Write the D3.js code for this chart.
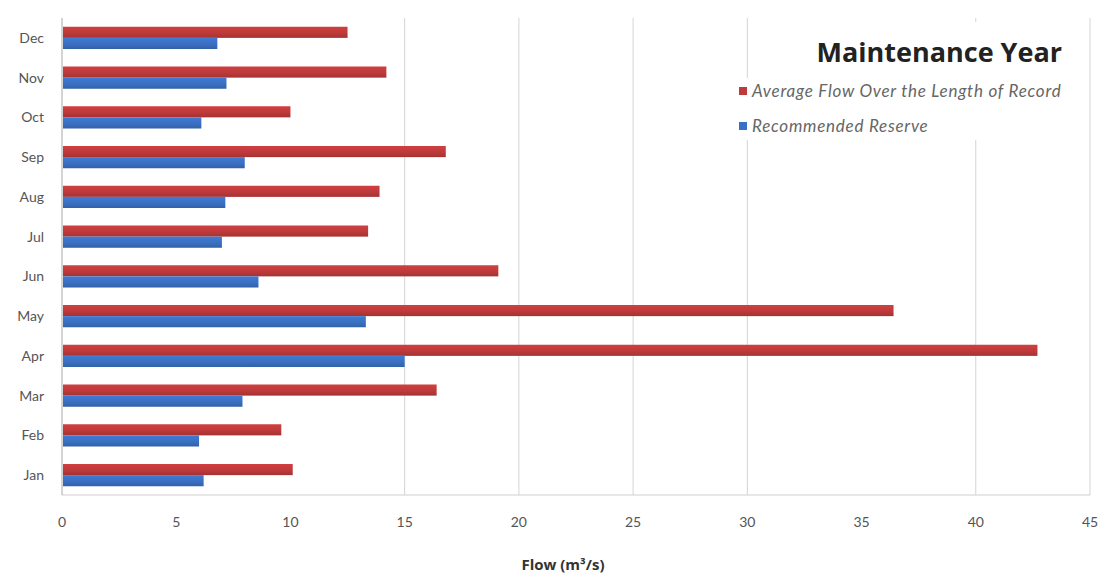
<!DOCTYPE html>
<html lang="en">
<head>
    <meta charset="UTF-8">
    <title>Maintenance Year</title>
    <script src="https://d3js.org/d3.v7.min.js"></script>
    <style>
        body { margin: 0; background: #fff; }
        .tick-label { font-family: Lato, 'Open Sans', sans-serif; font-size: 14px; fill: #555; }
        .title { font-family: 'Open Sans', Lato, sans-serif; font-size: 27px; font-weight: bold; fill: #222; }
        .legend-text { font-family: Lato, sans-serif; font-size: 17px; font-style: italic; letter-spacing: 0.75px; fill: #666; }
        .axis-title { font-family: 'Open Sans', Lato, sans-serif; font-size: 15px; font-weight: bold; fill: #333; }
    </style>
</head>
<body>
<div id="chart"></div>
<script>
    // data
    const months = ["Dec", "Nov", "Oct", "Sep", "Aug", "Jul", "Jun", "May", "Apr", "Mar", "Feb", "Jan"];
    const avgFlow = [12.5, 14.2, 10.0, 16.8, 13.9, 13.4, 19.1, 36.4, 42.7, 16.4, 9.6, 10.1];
    const reserve = [6.8, 7.2, 6.1, 8.0, 7.15, 7.0, 8.6, 13.3, 15.0, 7.9, 6.0, 6.2];
    const xTicks = [0, 5, 10, 15, 20, 25, 30, 35, 40, 45];
    const gridTicks = [15, 20, 25, 30, 40, 45];
    const seriesNames = ["Average Flow Over the Length of Record", "Recommended Reserve"];
    const colors = ["#be3a3b", "#3a70c2"];

    const W = 1103, H = 576;
    const plotLeft = 62, plotRight = 1090, plotTop = 18, plotBottom = 495;

    const svg = d3.select("#chart").append("svg")
        .attr("width", W)
        .attr("height", H);

    const x = d3.scaleLinear().domain([0, 45]).range([plotLeft, plotRight]);
    const y = d3.scaleBand().domain(months).range([plotTop, plotBottom])
        .paddingInner(0.44).paddingOuter(0.22);
    const sub = d3.scaleBand().domain([0, 1]).range([0, y.bandwidth()]);

    // grid lines
    svg.append("g").selectAll("line")
        .data(gridTicks)
        .join("line")
        .attr("x1", d => x(d)).attr("x2", d => x(d))
        .attr("y1", plotTop).attr("y2", plotBottom)
        .attr("stroke", "#d4d4d4")
        .attr("stroke-width", 1);

    // bottom border + left axis
    svg.append("line")
        .attr("x1", plotLeft).attr("x2", plotRight)
        .attr("y1", plotBottom).attr("y2", plotBottom)
        .attr("stroke", "#cfcfcf");
    svg.append("line")
        .attr("x1", plotLeft).attr("x2", plotLeft)
        .attr("y1", plotTop).attr("y2", plotBottom)
        .attr("stroke", "#a8a8a8");

    // white boxes behind title and legend
    svg.append("rect").attr("x", 800).attr("y", 22).attr("width", 268).attr("height", 58).attr("fill", "#fff");
    svg.append("rect").attr("x", 735).attr("y", 78).attr("width", 333).attr("height", 62).attr("fill", "#fff");

    const defs = svg.append("defs");
    colors.forEach((c, i) => {
        const g = defs.append("linearGradient")
            .attr("id", "grad" + i)
            .attr("x1", 0).attr("x2", 0).attr("y1", 0).attr("y2", 1);
        g.append("stop").attr("offset", "0%").attr("stop-color", d3.color(c).brighter(0.25));
        g.append("stop").attr("offset", "55%").attr("stop-color", c);
        g.append("stop").attr("offset", "100%").attr("stop-color", d3.color(c).darker(0.4));
    });

    const series = [avgFlow, reserve];
    series.forEach((vals, si) => {
        svg.append("g").selectAll("rect")
            .data(months)
            .join("rect")
            .attr("x", x(0) + 1)
            .attr("y", (m) => y(m) + sub(si))
            .attr("width", (m, i) => x(vals[i]) - x(0) - 1)
            .attr("height", sub.bandwidth())
            .attr("fill", `url(#grad${si})`);
    });

    // y labels
    svg.append("g").selectAll("text")
        .data(months)
        .join("text")
        .attr("class", "tick-label")
        .attr("x", 44)
        .attr("y", m => y(m) + y.bandwidth() / 2)
        .attr("dy", "0.35em")
        .attr("text-anchor", "end")
        .text(m => m);

    // x labels
    svg.append("g").selectAll("text")
        .data(xTicks)
        .join("text")
        .attr("class", "tick-label")
        .attr("x", d => x(d))
        .attr("y", 527)
        .attr("text-anchor", "middle")
        .text(d => d);

    svg.append("text")
        .attr("class", "axis-title")
        .attr("x", 563)
        .attr("y", 570)
        .attr("text-anchor", "middle")
        .text("Flow (m³/s)");

    svg.append("text")
        .attr("class", "title")
        .attr("x", 1062)
        .attr("y", 62)
        .attr("text-anchor", "end")
        .text("Maintenance Year");

    seriesNames.forEach((name, i) => {
        const ly = 91 + i * 35;
        svg.append("rect")
            .attr("x", 739).attr("y", ly - 4)
            .attr("width", 8).attr("height", 8)
            .attr("fill", colors[i]);
        svg.append("text")
            .attr("class", "legend-text")
            .attr("x", 752)
            .attr("y", ly)
            .attr("dy", "0.35em")
            .text(name);
    });
</script>
</body>
</html>
